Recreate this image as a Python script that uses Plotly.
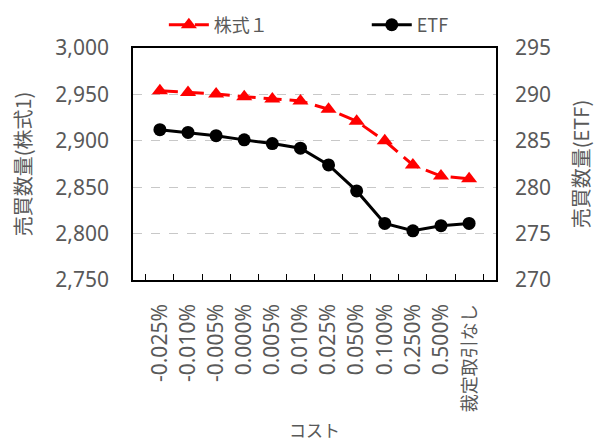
import plotly.graph_objects as go

categories = ["-0.025%", "-0.010%", "-0.005%", "0.000%", "0.005%", "0.010%",
              "0.025%", "0.050%", "0.100%", "0.250%", "0.500%", "裁定取引なし"]
stock1 = [2954, 2952, 2950.5, 2947.5, 2945, 2943, 2934, 2921, 2900, 2874, 2862, 2859]
etf = [286.2, 285.9, 285.55, 285.1, 284.7, 284.2, 282.4, 279.6, 276.1, 275.3, 275.85, 276.1]

FONT = "Noto Sans, Noto Sans CJK JP"
CJK = "Noto Sans CJK JP"
GRAY = "#595959"

tick_text = [c if c.isascii() else f'<span style="font-size:18px">{c}</span>' for c in categories]

fig = go.Figure()
fig.add_trace(go.Scatter(
    x=categories, y=stock1, name="株式１", yaxis="y", legend="legend",
    mode="lines+markers",
    line=dict(color="#FF0000", width=3, dash="18px,8px"),
    marker=dict(symbol="triangle-up", size=14, color="#FF0000"),
))
fig.add_trace(go.Scatter(
    x=categories, y=etf, name="ETF", yaxis="y2", legend="legend2",
    mode="lines+markers",
    line=dict(color="#000000", width=3),
    marker=dict(symbol="circle", size=13, color="#000000"),
))

leg_common = dict(orientation="h", xanchor="left", yanchor="middle", y=1.099,
                  font=dict(family=CJK, size=18, color=GRAY), itemwidth=40,
                  bgcolor="rgba(0,0,0,0)")

fig.update_layout(
    width=595, height=442,
    margin=dict(l=133, r=99, t=48, b=162, autoexpand=False),
    paper_bgcolor="white", plot_bgcolor="white",
    font=dict(family=FONT, color=GRAY, size=20),
    showlegend=True,
    legend=dict(x=0.085, **leg_common),
    legend2=dict(x=0.644, **leg_common),
    xaxis=dict(
        type="category", tickangle=-90,
        tickvals=categories, ticktext=tick_text,
        showline=True, linecolor="black", linewidth=1.5, mirror=True,
        ticks="inside", tickson="boundaries", ticklen=6, tickcolor="black",
        tickfont=dict(family=FONT, size=21, color=GRAY),
        ticklabelstandoff=14,
        title=dict(text="コスト", font=dict(family=CJK, size=17, color=GRAY), standoff=18),
        showgrid=False,
    ),
    yaxis=dict(
        range=[2750, 3000], dtick=50, tickformat=",",
        showline=True, linecolor="black", linewidth=1.5, mirror=True,
        ticks="", showgrid=True, gridcolor="#C8C8C8", griddash="dash", gridwidth=1,
        tickfont=dict(family=FONT, size=21, color=GRAY),
        ticklabelstandoff=18,
        title=dict(text="売買数量(株式1)", font=dict(family=CJK, size=20, color=GRAY), standoff=18),
        zeroline=False,
    ),
    yaxis2=dict(
        range=[270, 295], dtick=5, overlaying="y", side="right",
        showgrid=False, ticks="", zeroline=False,
        tickfont=dict(family=FONT, size=21, color=GRAY),
        ticklabelstandoff=18,
        title=dict(text="売買数量(ETF)", font=dict(family=CJK, size=20, color=GRAY), standoff=26),
    ),
)

fig.write_html("out.html")
